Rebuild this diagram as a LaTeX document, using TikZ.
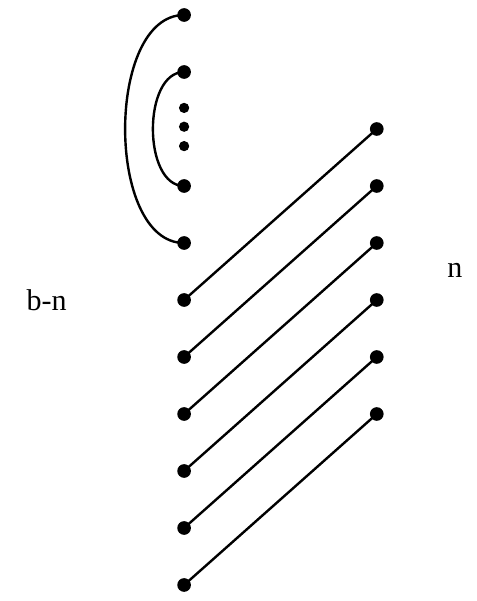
\documentclass[tikz,border=0pt]{standalone}
\usepackage{fontspec}
\setmainfont{Liberation Serif}
\usepackage{tikz}

\begin{document}
\begin{tikzpicture}[
  dot/.style={circle,fill,inner sep=0pt,minimum size=0.24cm},
  smalldot/.style={circle,fill,inner sep=0pt,minimum size=0.18cm},
  link/.style={line width=1.2pt}]
  \useasboundingbox (0,0) rectangle (8.368,-10.544);
  % left column
  \foreach \k in {0,1,3,4,5,6,7,8,9,10}
    \node[dot] (l\k) at (3.23,-0.263-\k) {};
  \foreach \k/\y in {a/1.63,b/1.96,c/2.30}
    \node[smalldot] (e\k) at (3.23,-0.263-\y) {};
  % right column
  \foreach \k in {2,...,7}
    \node[dot] (r\k) at (6.61,-0.263-\k) {};
  % arcs
  \draw[link] (l0.center) .. controls +(-1.38,0) and +(-1.38,0) .. (l4.center);
  \draw[link] (l1.center) .. controls +(-0.73,0) and +(-0.73,0) .. (l3.center);
  % slanted links
  \foreach \k in {5,...,10}{
    \pgfmathtruncatemacro{\j}{\k-3}
    \draw[link] (l\k.center) -- (r\j.center);
  }
  % labels
  \node[font=\fontsize{15}{17}\selectfont] (bn) at (0.82,-5.27) {b-n};
  \node[font=\fontsize{15}{17}\selectfont] (n) at (7.98,-4.75) {n};
\end{tikzpicture}
\end{document}
